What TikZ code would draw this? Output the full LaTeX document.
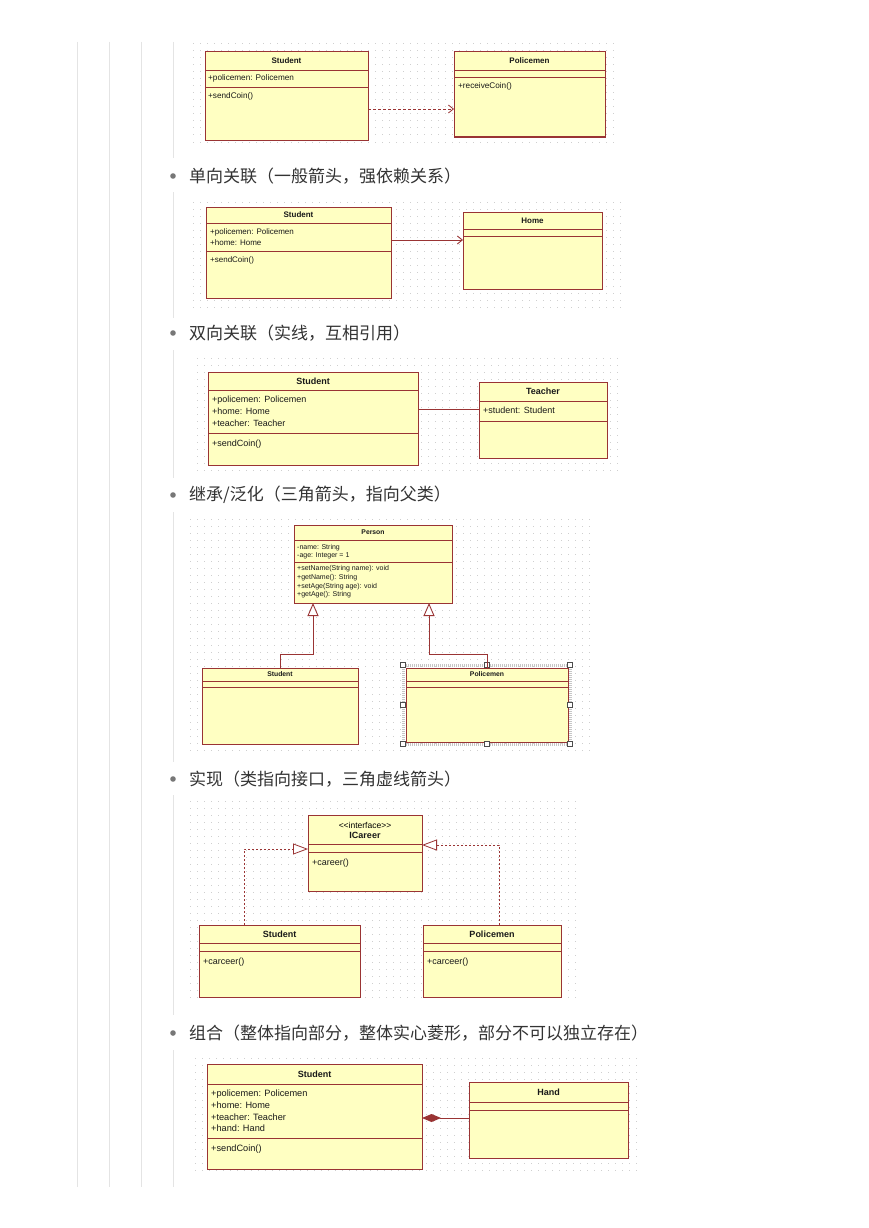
\documentclass[tikz,border=0pt]{standalone}
\usepackage{fontspec}
\setmainfont{Liberation Sans}
\newfontfamily\cjk{Noto Sans CJK SC}
\usetikzlibrary{arrows.meta}
\definecolor{boxfill}{HTML}{FFFFC2}
\definecolor{boxline}{HTML}{9A3434}
\definecolor{gridc}{HTML}{CFCFCF}
\definecolor{rulec}{HTML}{E4E4E4}
\definecolor{txtc}{HTML}{333333}
\definecolor{bulc}{HTML}{777777}
\tikzset{
  cls/.style={draw=boxline, fill=boxfill, line width=1pt, inner sep=0pt, outer sep=0pt, anchor=north west},
  sepline/.style={draw=boxline, line width=0.9pt},
  gridline/.style={draw=gridc, line width=1pt, dash pattern=on 1pt off 6pt},
  rule/.style={draw=rulec, line width=1pt},
  tx/.style={font=\fontsize{#1}{#1}\selectfont, inner sep=0pt, text=black!90, anchor=base west},
  bx/.style={font=\bfseries\fontsize{#1}{#1}\selectfont, inner sep=0pt, text=black!90},
  cn/.style={font=\cjk\fontsize{17}{17}\selectfont, inner sep=0pt, text=txtc, anchor=west},
  dep/.style={draw=boxline, line width=0.8pt, dash pattern=on 3pt off 2pt, -{Straight Barb[length=5pt, width=8pt]}},
  assoc/.style={draw=boxline, line width=0.9pt, -{Straight Barb[length=5pt, width=8pt]}},
  link/.style={draw=boxline, line width=1pt},
  gen/.style={draw=boxline, line width=0.9pt, -{Triangle[open, length=13pt, width=11pt, fill=white]}},
  real/.style={draw=boxline, line width=0.8pt, dash pattern=on 2pt off 2pt, -{Triangle[open, length=15pt, width=11pt, fill=white]}},
  comp/.style={draw=boxline, line width=1pt, {Diamond[length=19pt, width=8pt, fill=boxline]}-},
  handle/.style={draw=black!70, fill=white, line width=0.6pt}
}
\newcommand{\umlcls}[7]{%
  \node[cls, minimum width={(#4)-(#2)}, minimum height={(#5)-(#3)}] (#1) at (#2,#3) {};
  \draw[sepline] (#2,#6) -- (#4,#6) (#2,#7) -- (#4,#7);
}
\newcommand{\dotgrid}[4]{%
  \pgfmathtruncatemacro\ngrid{((#4)-(#2))/7}
  \foreach \i in {0,...,\ngrid} {\draw[gridline] (#1,{#2+7*\i}) -- (#3,{#2+7*\i});}
}
\begin{document}
\begin{tikzpicture}[x=1pt,y=-1pt]
\useasboundingbox[fill=white] (0,0) rectangle (868,1228);
% left guide rules
\foreach \xx in {77,109,141} \draw[rule] (\xx,42) -- (\xx,1187);
\foreach \ya/\yb in {42/158,192/318,350/478,512/762,795/1015,1050/1187} \draw[rule] (173,\ya) -- (173,\yb);
% bullets and headings
\foreach \yy in {176,333,495,779,1033} \fill[bulc] (173,\yy) circle (2.8);
\node[cn] (h1) at (189,176) {单向关联（一般箭头，强依赖关系）};
\node[cn] (h2) at (189,333) {双向关联（实线，互相引用）};
\node[cn] (h3) at (189,495) {继承/泛化（三角箭头，指向父类）};
\node[cn] (h4) at (189,779) {实现（类指向接口，三角虚线箭头）};
\node[cn] (h5) at (189,1033) {组合（整体指向部分，整体实心菱形，部分不可以独立存在）};

% ---------- Diagram 1: dependency ----------
\dotgrid{193}{44}{615}{148}
\umlcls{s1}{205}{52}{368}{140}{70}{87}
\node[bx=8] (s1n) at (286.5,61) {Student};
\node[tx=8.2] (s1a) at (208,81) {+policemen: Policemen};
\node[tx=8.2] (s1m) at (208,99) {+sendCoin()};
\umlcls{p1}{454}{52}{605}{137}{70}{77}
\node[bx=8] (p1n) at (529.5,61) {Policemen};
\node[tx=8.2] (p1m) at (458,89) {+receiveCoin()};
\draw[dep] (s1.east |- 0,109) -- (p1.west |- 0,109);

% ---------- Diagram 2: unidirectional association ----------
\dotgrid{193}{202}{622}{308}
\umlcls{s2}{206}{207}{391}{298}{223}{251}
\node[bx=8] (s2n) at (298.5,215) {Student};
\node[tx=8] (s2a) at (210,234) {+policemen: Policemen};
\node[tx=8] (s2b) at (210,245) {+home: Home};
\node[tx=8] (s2m) at (210,262) {+sendCoin()};
\umlcls{h2b}{463}{212}{602}{289}{229}{236}
\node[bx=8] (h2n) at (532.5,220.5) {Home};
\draw[assoc] (s2.east |- 0,240) -- (h2b.west |- 0,240);

% ---------- Diagram 3: bidirectional association ----------
\dotgrid{197}{358}{620}{470}
\umlcls{s3}{208}{372}{418}{465}{390}{433}
\node[bx=9] (s3n) at (313,381) {Student};
\node[tx=9] (s3a) at (212,402.5) {+policemen: Policemen};
\node[tx=9] (s3b) at (212,414.5) {+home: Home};
\node[tx=9] (s3c) at (212,426.5) {+teacher: Teacher};
\node[tx=9] (s3m) at (212,446.5) {+sendCoin()};
\umlcls{t3}{479}{382}{607}{458}{401}{421}
\node[bx=9] (t3n) at (543,391.5) {Teacher};
\node[tx=9] (t3a) at (483,413.5) {+student: Student};
\draw[link] (s3.east |- 0,409) -- (t3.west |- 0,409);

% ---------- Diagram 4: generalization ----------
\dotgrid{190}{519}{590}{752}
\umlcls{pr}{294}{525}{452}{603}{540}{562}
\node[bx=6.8] (prn) at (373,532.5) {Person};
\node[tx=7] (pra) at (297,549.5) {-name: String};
\node[tx=7] (prb) at (297,557) {-age: Integer = 1};
\node[tx=7] (prc) at (297,570.5) {+setName(String name): void};
\node[tx=7] (prd) at (297,579.5) {+getName(): String};
\node[tx=7] (pre) at (297,588) {+setAge(String age): void};
\node[tx=7] (prf) at (297,596.5) {+getAge(): String};
\umlcls{s4}{202}{668}{358}{744}{681}{687}
\node[bx=6.8] (s4n) at (280,674.5) {Student};
\draw[gray!45, line width=3pt, dash pattern=on 1pt off 1pt] (403,665) rectangle (570,744);
\umlcls{p4}{406}{668}{568}{742}{681}{687}
\node[bx=6.8] (p4n) at (487,674.5) {Policemen};
\foreach \hx/\hy in {403/665,487/665,570/665,403/705,570/705,403/744,487/744,570/744}
  \draw[handle] ({\hx-2.5},{\hy-2.5}) rectangle ({\hx+2.5},{\hy+2.5});
\draw[gen] (s4.north) |- (313,654) -- (pr.south -| 313,0);
\draw[gen] (p4.north) |- (429,654) -- (pr.south -| 429,0);

% ---------- Diagram 5: realization ----------
\dotgrid{190}{801}{577}{1002}
\umlcls{ic}{308}{815}{422}{891}{844}{852}
\node[font=\fontsize{8.5}{8.5}\selectfont, inner sep=0pt] (icst) at (365,825) {<{}<interface>{}>};
\node[bx=9] (icn) at (365,835.5) {ICareer};
\node[tx=9] (icm) at (312,865) {+career()};
\umlcls{s5}{199}{925}{360}{997}{943}{951}
\node[bx=9] (s5n) at (279.5,934) {Student};
\node[tx=9] (s5m) at (203,964) {+carceer()};
\umlcls{p5}{423}{925}{561}{997}{943}{951}
\node[bx=9] (p5n) at (492,934) {Policemen};
\node[tx=9] (p5m) at (427,964) {+carceer()};
\draw[real] (s5.north -| 244,0) |- (ic.west |- 0,849);
\draw[real] (p5.north -| 499,0) |- (ic.east |- 0,845);

% ---------- Diagram 6: composition ----------
\dotgrid{195}{1058}{640}{1175}
\umlcls{s6}{207}{1064}{422}{1169}{1084}{1138}
\node[bx=9] (s6n) at (314.5,1074) {Student};
\node[tx=9.2] (s6a) at (211,1096) {+policemen: Policemen};
\node[tx=9.2] (s6b) at (211,1108) {+home: Home};
\node[tx=9.2] (s6c) at (211,1120) {+teacher: Teacher};
\node[tx=9.2] (s6d) at (211,1131.5) {+hand: Hand};
\node[tx=9.2] (s6m) at (211,1151) {+sendCoin()};
\umlcls{h6}{469}{1082}{628}{1158}{1102}{1110}
\node[bx=9] (h6n) at (548.5,1092) {Hand};
\draw[comp] (s6.east |- 0,1118) -- (h6.west |- 0,1118);
\end{tikzpicture}
\end{document}
